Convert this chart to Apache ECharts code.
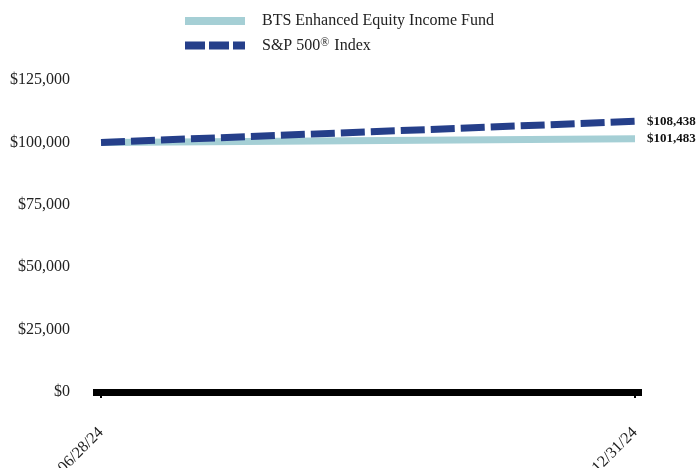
<!DOCTYPE html>
<html>
<head>
<meta charset="utf-8">
<script src="https://cdn.jsdelivr.net/npm/echarts@6/dist/echarts.min.js"></script>
<style>
  html, body { margin: 0; padding: 0; background: #fff; }
  #main { width: 698px; height: 468px; }
</style>
</head>
<body>
<div id="main"></div>
<script>
  var dates = ['06/28/24', '12/31/24'];
  var fundValues = [100000, 101483];
  var indexValues = [100000, 108438];
  var seriesNames = ['BTS Enhanced Equity Income Fund', 'S&P 500\u00AE Index'];
  var colors = ['#a5cfd5', '#253f8a'];

  var myChart = echarts.init(document.getElementById('main'));

  function toPoints(vals) {
    return vals.map(function (v, i) { return [i, v]; });
  }

  var font = '"Liberation Serif", "Times New Roman", serif';

  // legend icons: solid bar and dashed bar
  var solidIcon = 'path://M0,0H60V8H0Z';
  var dashIcon = 'path://M0,0H20V8H0Z M24,0H44V8H24Z M48,0H60V8H48Z';

  var endLabel = {
    show: true,
    distance: 12,
    fontFamily: font,
    fontWeight: 'bold',
    fontSize: 13,
    color: '#111',
    formatter: function (p) { return '$' + p.value[1].toLocaleString('en-US'); }
  };

  var option = {
    animation: false,
    textStyle: { fontFamily: font },
    legend: {
      orient: 'vertical',
      left: 180,
      top: 8,
      itemWidth: 60,
      itemHeight: 8,
      itemGap: 8,
      symbolKeepAspect: false,
      formatter: function (name) {
        // put the registered mark up as a superscript
        return name.replace('\u00AE', '{sup|\u00AE}');
      },
      textStyle: {
        fontFamily: font, fontSize: 16, color: '#222', padding: [0, 0, 0, 12],
        rich: {
          sup: { fontFamily: font, fontSize: 12, color: '#222', verticalAlign: 'top', padding: [0, 1, 5, 0] }
        }
      },
      data: [
        { name: seriesNames[0], icon: solidIcon, itemStyle: { color: colors[0] } },
        { name: seriesNames[1], icon: dashIcon, itemStyle: { color: colors[1] } }
      ]
    },
    grid: { left: 93, right: 56, top: 80, bottom: 76, outerBoundsMode: 'none', containLabel: false },
    xAxis: {
      type: 'value',
      min: -0.015,
      max: 1.0131,
      splitLine: { show: false },
      axisLine: { show: true, onZero: false, lineStyle: { color: '#000', width: 7, cap: 'butt' } },
      axisTick: {
        show: true,
        customValues: [0, 1],
        length: 6,
        lineStyle: { color: '#000', width: 2 }
      },
      axisLabel: {
        customValues: [0, 1],
        rotate: 45,
        margin: 38,
        fontFamily: font,
        fontSize: 16,
        color: '#222',
        formatter: function (v) { return dates[Math.round(v)]; }
      }
    },
    yAxis: {
      type: 'value',
      min: 0,
      max: 125000,
      interval: 25000,
      splitLine: { show: false },
      axisLine: { show: false },
      axisTick: { show: false },
      axisLabel: {
        margin: 23,
        padding: [4, 0, 0, 0],
        fontFamily: font,
        fontSize: 16,
        color: '#222',
        formatter: function (v) { return '$' + v.toLocaleString('en-US'); }
      }
    },
    series: [
      {
        name: seriesNames[0],
        type: 'line',
        symbol: 'none',
        data: toPoints(fundValues),
        itemStyle: { color: colors[0] },
        lineStyle: { color: colors[0], width: 7, cap: 'butt' },
        endLabel: endLabel,
        z: 2
      },
      {
        name: seriesNames[1],
        type: 'line',
        symbol: 'none',
        data: toPoints(indexValues),
        itemStyle: { color: colors[1] },
        lineStyle: { color: colors[1], width: 7, type: [24, 6], cap: 'butt' },
        endLabel: endLabel,
        z: 3
      }
    ]
  };

  myChart.setOption(option);
</script>
</body>
</html>
